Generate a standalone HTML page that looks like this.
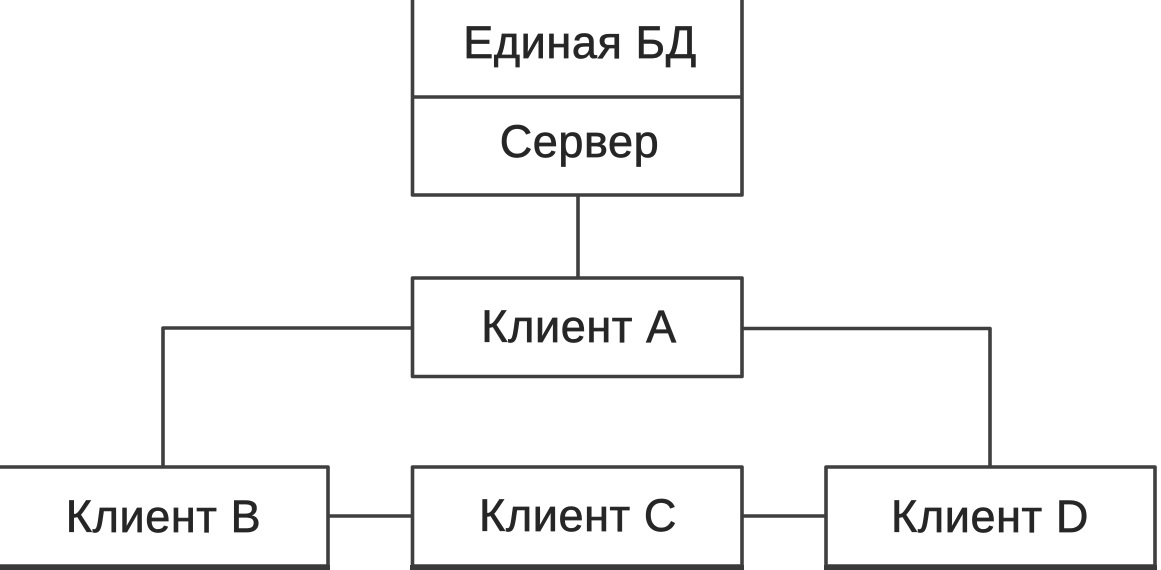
<!DOCTYPE html>
<html>
<head>
<meta charset="utf-8">
<style>
html,body{margin:0;padding:0;background:#fff;}
body{width:1161px;height:570px;overflow:hidden;}
svg{display:block;}
text{font-family:"Liberation Sans","DejaVu Sans",sans-serif;font-size:45px;fill:#262626;stroke:#2a2a2a;stroke-width:0.7px;letter-spacing:0.6px;text-anchor:middle;}
</style>
</head>
<body>
<svg width="1161" height="570" viewBox="0 0 1161 570" xmlns="http://www.w3.org/2000/svg">
  <g fill="none" stroke="#3f3f3f" stroke-width="3.6" stroke-linejoin="round">
    <!-- top box -->
    <rect x="412.5" y="-10" width="329.5" height="205"/>
    <line x1="412.5" y1="97" x2="742" y2="97"/>
    <!-- connector top -> A -->
    <line x1="578" y1="195" x2="578" y2="278"/>
    <!-- Client A -->
    <rect x="412.5" y="278" width="329.5" height="98.5"/>
    <!-- A -> B -->
    <polyline points="412.5,328 163,328 163,467"/>
    <!-- A -> D -->
    <polyline points="742,328.5 990,328.5 990,467"/>
    <!-- Client B -->
    <rect x="-2" y="467" width="330" height="99"/>
    <!-- Client C -->
    <rect x="412.5" y="467" width="329.5" height="99"/>
    <!-- Client D -->
    <rect x="826" y="467" width="329" height="99"/>
    <!-- B-C, C-D -->
    <line x1="328" y1="516" x2="412.5" y2="516"/>
    <line x1="742" y1="516" x2="826" y2="516"/>
  </g>
  <!-- thicker bottom edges -->
  <g fill="#3a3a3a">
    <rect x="-2" y="565" width="332" height="5"/>
    <rect x="410" y="565" width="334" height="5"/>
    <rect x="824" y="565" width="333" height="5"/>
  </g>
  <text x="580" y="58">Единая БД</text>
  <text x="579.5" y="157">Сервер</text>
  <text x="579" y="342">Клиент А</text>
  <text x="163.5" y="532">Клиент B</text>
  <text x="578" y="531">Клиент C</text>
  <text x="990" y="532">Клиент D</text>
</svg>
</body>
</html>
